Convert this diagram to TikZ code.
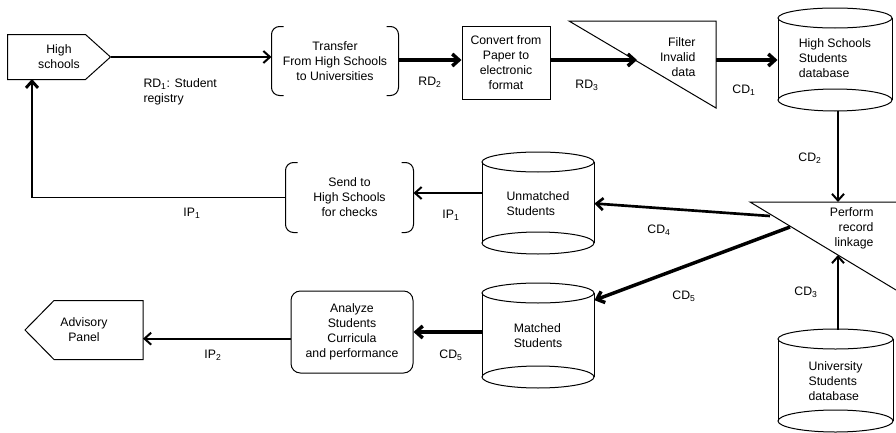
\documentclass[tikz,border=0pt]{standalone}
\usepackage{fontspec}
\setmainfont{Liberation Sans}
\usetikzlibrary{arrows.meta}

\tikzset{every picture/.style={line width=0.75pt}}

\begin{document}
\begin{tikzpicture}[x=0.75pt,y=0.75pt,yscale=-1,
	txt/.style={inner sep=0.75pt,align=center,font=\fontsize{9.2}{11.25}\selectfont},
	box/.style={txt,draw=none},
	lbl/.style={txt},
	flow/.style={-{Straight Barb[length=5pt,width=9pt]},line width=1.5pt},
	heavy/.style={flow,line width=2.6pt}]
	\useasboundingbox (0,0) rectangle (896,432);
	
	% Process boxes
	\node [box,minimum width=76.5pt,minimum height=33pt] (hs) at (59,57) {High\\schools};
	\node [box,minimum width=94.5pt,minimum height=51pt] (trf) at (335,61) {Transfer\\From High Schools\\to Universities};
	\node [box,draw,minimum width=66pt,minimum height=54.75pt] (cnv) at (506,62.5) {Convert from\\Paper to\\electronic\\format};
	\node [box,minimum width=95.25pt,minimum height=51.75pt] (snd) at (349.5,197.5) {Send to\\High Schools\\for checks};
	\node [box,draw,rounded corners=7pt,minimum width=91.5pt,minimum height=61.5pt] (anl) at (352,332) {Analyze\\Students\\Curricula\\and performance};
	\node [box,minimum width=87.75pt,minimum height=43.5pt] (adv) at (84,330) {Advisory\\Panel};
	
	% Databases
	\node [box,align=left,minimum width=85.5pt,minimum height=77.25pt] (hsdb) at (835,58.5) {High Schools\\Students\\database};
	\node [box,align=left,minimum width=84pt,minimum height=77.25pt] (unst) at (538,203.5) {Unmatched\\Students};
	\node [box,align=left,minimum width=84pt,minimum height=78.75pt] (mst) at (538,335.5) {Matched\\Students};
	\node [box,align=left,minimum width=86.25pt,minimum height=76.5pt] (unidb) at (835.5,381) {University\\Students\\database};
	\foreach \xa/\xb/\ya/\yb in {778/892/18/100, 482/594/162/243, 482/594/293/377, 778/893/339/421}
	{
		\draw (\xa,\ya) -- (\xa,\yb) (\xb,\ya) -- (\xb,\yb);
		\draw ({(\xa+\xb)/2},\ya) ellipse [x radius={(\xb-\xa)/2}, y radius=10];
		\draw ({(\xa+\xb)/2},\yb) ellipse [x radius={(\xb-\xa)/2}, y radius=11];
	}
	
	% Entity shapes
	\draw (hs.north west) -- ([xshift=-18.75pt]hs.north east) -- (hs.east) -- ([xshift=-18.75pt]hs.south east) -- (hs.south west) -- cycle;
	\draw (adv.west) -- ([xshift=21.75pt]adv.north west) -- (adv.north east) -- (adv.south east) -- ([xshift=21.75pt]adv.south west) -- cycle;
	\foreach \n in {trf,snd}
	{
		\draw [rounded corners=6pt] ([xshift=9pt]\n.north west) -- (\n.north west) -- (\n.south west) -- ([xshift=9pt]\n.south west);
		\draw [rounded corners=6pt] ([xshift=-9pt]\n.north east) -- (\n.north east) -- (\n.south east) -- ([xshift=-9pt]\n.south east);
	}
	
	% Triangles
	\draw (569,21) -- (716,21) -- (716,108) -- cycle;
	\node [txt,align=right,anchor=east] (flt) at (697,57) {Filter\\Invalid\\data};
	\draw (896,202) -- (750,202) -- (896,290);
	\node [txt,align=right,anchor=east] (prl) at (875,228) {Perform\\record\\linkage};
	\coordinate (fltin) at (637,60);
	\coordinate (fltout) at (716,60);
	\coordinate (prlin) at (838,202);
	\coordinate (prlup) at (838,255);
	\coordinate (prlfour) at (770,216);
	\coordinate (prlfive) at (790,227);
	\coordinate (hsin) at (32,79);
	
	% Flows
	\draw [flow] (hs.east) -- (hs.east -| trf.west);
	\draw [heavy] (trf.east |- 0,60) -- (cnv.west |- 0,60);
	\draw [heavy] (cnv.east |- fltin) -- (fltin);
	\draw [heavy] (fltout) -- (fltout -| hsdb.west);
	\draw [flow] (prlin |- hsdb.south) -- (prlin);
	\draw [flow] (prlup |- unidb.north) -- (prlup);
	\draw [flow,line width=2pt] (prlfour) -- (unst.east);
	\draw [heavy] (prlfive) -- (mst.32);
	\draw [flow] (unst.west |- 0,193) -- (snd.east |- 0,193);
	\draw [line width=1.1pt] (snd.west) -- (hsin |- snd.west);
	\draw [flow,line width=2.2pt] (hsin |- snd.west) -- (hsin);
	\draw [heavy] (anl.east -| mst.west) -- (anl.east);
	\draw [flow] ([yshift=5pt]anl.west) -- ([yshift=5pt]anl.west -| adv.east);
	
	% Flow labels
	\node [lbl,align=left,anchor=west] (rdone) at (142,92) {RD\textsubscript{1}: Student\\registry};
	\node [lbl] (rdtwo) at (430,82) {RD\textsubscript{2}};
	\node [lbl] (rdthree) at (587,85) {RD\textsubscript{3}};
	\node [lbl] (cdone) at (744,90) {CD\textsubscript{1}};
	\node [lbl] (cdtwo) at (810,158) {CD\textsubscript{2}};
	\node [lbl] (cdthree) at (806,292) {CD\textsubscript{3}};
	\node [lbl] (cdfour) at (659,230) {CD\textsubscript{4}};
	\node [lbl] (cdfive) at (684,296) {CD\textsubscript{5}};
	\node [lbl] (cdfivb) at (451,355) {CD\textsubscript{5}};
	\node [lbl] (ipone) at (451,215) {IP\textsubscript{1}};
	\node [lbl] (iponb) at (192,213) {IP\textsubscript{1}};
	\node [lbl] (iptwo) at (213,355) {IP\textsubscript{2}};
	
\end{tikzpicture}
\end{document}
